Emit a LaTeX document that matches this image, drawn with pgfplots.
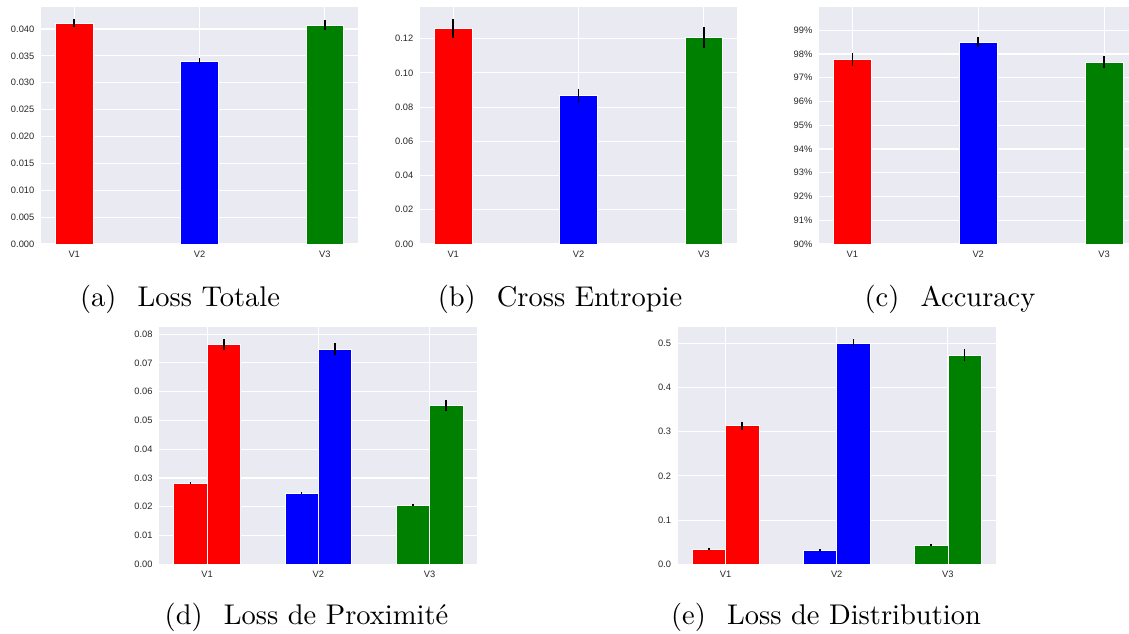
\documentclass[border=0pt]{standalone}
\usepackage{fontspec}
\usepackage{graphicx}
\usepackage{pgfplots}
\pgfplotsset{compat=1.18}
\newfontfamily\snsfont{Liberation Sans}
\definecolor{bgc}{RGB}{234,234,242}
\definecolor{tickc}{RGB}{38,38,38}
\definecolor{sgreen}{RGB}{0,128,0}
\newcommand\tickfont{\snsfont\fontsize{9.3}{11}\selectfont}
\newcommand\subcap[2]{\scalebox{2.85}{(#1)\hspace{0.74em}#2}}
\pgfplotsset{
  sns/.style={
    scale only axis,
    anchor=south west,
    axis background/.style={fill=bgc},
    axis line style={draw=none},
    grid=major,
    major grid style={draw=white, line width=1.1pt},
    major tick length=0pt,
    xtick={0,1,2}, xticklabels={V1,V2,V3},
    ticklabel style={font=\tickfont, text=tickc},
    yticklabel style={xshift=-3.2pt},
    xticklabel style={yshift=-3.5pt},
    ymin=0,
    scaled y ticks=false,
    /pgf/number format/assume math mode=true,
    /pgf/number format/fixed,
    /pgf/number format/fixed zerofill,
    ybar, bar width=0.3, bar shift=0,
  },
  bb/.style={fill=#1, draw=white, line width=0.6pt,
    error bars/.cd, y dir=both, y explicit, error mark=none,
    error bar style={black, line width=1.5pt}},
}
\begin{document}
\begin{tikzpicture}
\path[use as bounding box] (0,0) rectangle (1129pt,634pt);
% (a)
\begin{axis}[sns, at={(41pt,390pt)}, width=317pt, height=237pt,
  xmin=-0.265, xmax=2.265, ymax=0.0441,
  ytick={0,0.005,...,0.0401}, /pgf/number format/precision=3]
\addplot[bb=red] coordinates {(0,0.0411) +- (0,0.0007)};
\addplot[bb=blue] coordinates {(1,0.0340) +- (0,0.0006)};
\addplot[bb=sgreen] coordinates {(2,0.0407) +- (0,0.0009)};
\end{axis}
% (b)
\begin{axis}[sns, at={(420pt,390pt)}, width=317pt, height=237pt,
  xmin=-0.265, xmax=2.265, ymax=0.1385,
  ytick={0,0.02,...,0.121}, /pgf/number format/precision=2]
\addplot[bb=red] coordinates {(0,0.1259) +- (0,0.0057)};
\addplot[bb=blue] coordinates {(1,0.0869) +- (0,0.0037)};
\addplot[bb=sgreen] coordinates {(2,0.1206) +- (0,0.0060)};
\end{axis}
% (c)
\begin{axis}[sns, at={(819pt,390pt)}, width=310pt, height=237pt,
  xmin=-0.265, xmax=2.198, ymin=90, ymax=99.98,
  ytick={90,91,...,99},
  yticklabels={90\%,91\%,92\%,93\%,94\%,95\%,96\%,97\%,98\%,99\%}]
\addplot[bb=red] coordinates {(0,97.78) +- (0,0.28)};
\addplot[bb=blue] coordinates {(1,98.51) +- (0,0.22)};
\addplot[bb=sgreen] coordinates {(2,97.65) +- (0,0.25)};
\end{axis}
% (d)
\begin{axis}[sns, at={(159.3pt,69.7pt)}, width=318pt, height=237.6pt,
  xmin=-0.43, xmax=2.43, ymax=0.0826,
  ytick={0,0.01,...,0.081}, /pgf/number format/precision=2]
\addplot[bar shift=-0.15, bb=red] coordinates {(0,0.0283) +- (0,0.0003)};
\addplot[bar shift=0.15, bb=red] coordinates {(0,0.0765) +- (0,0.0019)};
\addplot[bar shift=-0.15, bb=blue] coordinates {(1,0.0248) +- (0,0.0002)};
\addplot[bar shift=0.15, bb=blue] coordinates {(1,0.0748) +- (0,0.0020)};
\addplot[bar shift=-0.15, bb=sgreen] coordinates {(2,0.0206) +- (0,0.0002)};
\addplot[bar shift=0.15, bb=sgreen] coordinates {(2,0.0551) +- (0,0.0019)};
\end{axis}
% (e)
\begin{axis}[sns, at={(677.7pt,69.7pt)}, width=318pt, height=237.6pt,
  xmin=-0.43, xmax=2.43, ymax=0.5376,
  ytick={0,0.1,...,0.51}, /pgf/number format/precision=1]
\addplot[bar shift=-0.15, bb=red] coordinates {(0,0.0346) +- (0,0.002)};
\addplot[bar shift=0.15, bb=red] coordinates {(0,0.3136) +- (0,0.009)};
\addplot[bar shift=-0.15, bb=blue] coordinates {(1,0.0317) +- (0,0.002)};
\addplot[bar shift=0.15, bb=blue] coordinates {(1,0.5007) +- (0,0.009)};
\addplot[bar shift=-0.15, bb=sgreen] coordinates {(2,0.0430) +- (0,0.002)};
\addplot[bar shift=0.15, bb=sgreen] coordinates {(2,0.4729) +- (0,0.0135)};
\end{axis}
% captions
\node[anchor=base, inner sep=0pt] at (180pt,327.3pt) {\subcap{a}{Loss Totale}};
\node[anchor=base, inner sep=0pt] at (560pt,327.3pt) {\subcap{b}{Cross Entropie}};
\node[anchor=base, inner sep=0pt] at (950pt,327.3pt) {\subcap{c}{Accuracy}};
\node[anchor=base, inner sep=0pt] at (306.5pt,9.7pt) {\subcap{d}{Loss de Proximité}};
\node[anchor=base, inner sep=0pt] at (826pt,9.7pt) {\subcap{e}{Loss de Distribution}};
\end{tikzpicture}
\end{document}
